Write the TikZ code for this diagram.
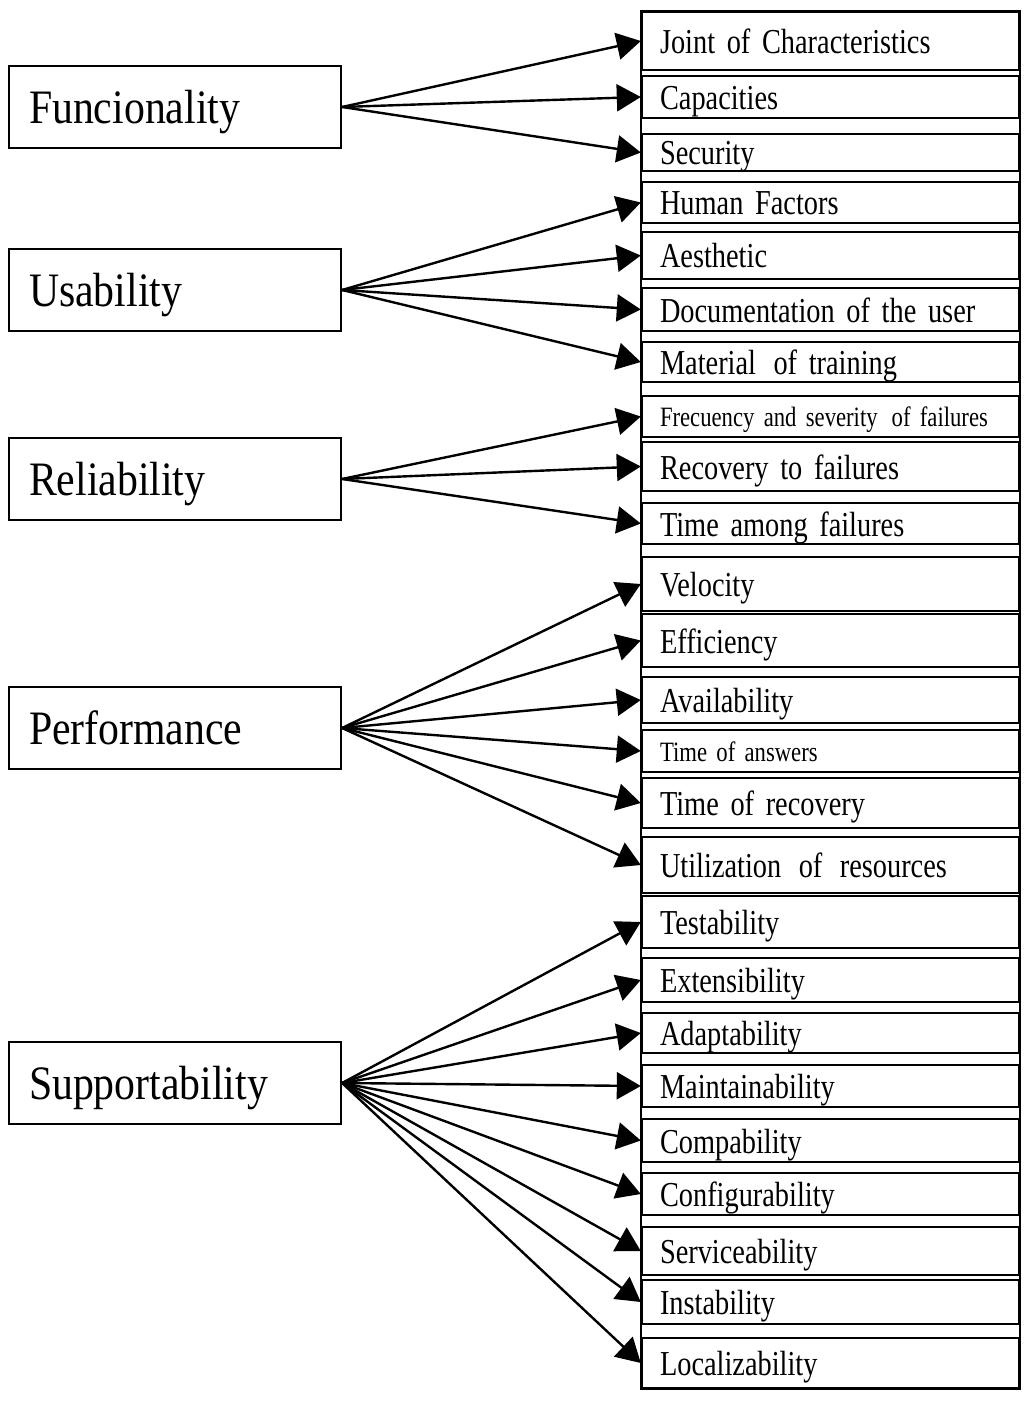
\documentclass[tikz,border=0pt]{standalone}
\usepackage{fontspec}
\setmainfont[FakeStretch=0.87]{Liberation Serif}
\newfontfamily\itmfont[FakeStretch=0.81]{Liberation Serif}
\usepackage{tikz}
\usetikzlibrary{arrows.meta,positioning}

\begin{document}
\begin{tikzpicture}[x=1pt,y=-1pt,
  every node/.style={font={\itmfont\fontsize{35}{40}\selectfont}},
  cat/.style={draw,line width=2.2pt,minimum width=332pt,minimum height=82pt,text width=292pt,align=left,inner sep=0pt,font={\rmfamily\fontsize{48}{54}\selectfont},text height=38pt,text depth=5pt},
  itm/.style={draw,line width=2.4pt,minimum width=377pt,text width=341pt,align=left,inner sep=0pt,text height=28pt,text depth=3pt},
  sml/.style={font={\itmfont\fontsize{28}{30}\selectfont},text height=22pt,text depth=2pt},
  arr/.style={line width=2.4pt,-{Triangle[length=24pt,width=27pt]}}]
 \useasboundingbox (0,0) rectangle (1032,1404);
 % left column
 \node[cat] (fun) at (175,107) {Funcionality};
 \node[cat] (usa) at (175,290) {Usability};
 \node[cat] (rel) at (175,479) {Reliability};
 \node[cat] (per) at (175,728) {Performance};
 \node[cat] (sup) at (175,1083) {Supportability};
 % right column
 \node[itm,minimum height=58pt] (jc) at (830.5,41) {Joint of Characteristics};
 \node[itm,minimum height=42pt] (cap) at (830.5,97) {Capacities};
 \node[itm,minimum height=37pt] (sec) at (830.5,152.5) {Security};
 \node[itm,minimum height=41pt] (hf) at (830.5,202.5) {Human Factors};
 \node[itm,minimum height=47pt] (aes) at (830.5,255.5) {Aesthetic};
 \node[itm,minimum height=43pt] (doc) at (830.5,309.5) {Documentation of the user};
 \node[itm,minimum height=40pt] (mat) at (830.5,362) {Material\, of training};
 \node[itm,sml,minimum height=41pt] (fr) at (830.5,416.5) {Frecuency and severity\, of failures};
 \node[itm,minimum height=49pt] (rec) at (830.5,466.5) {Recovery to failures};
 \node[itm,minimum height=41pt] (tam) at (830.5,523.5) {Time among failures};
 \node[itm,minimum height=54pt] (vel) at (830.5,584) {Velocity};
 \node[itm,minimum height=53pt] (eff) at (830.5,640.5) {Efficiency};
 \node[itm,minimum height=46pt] (ava) at (830.5,700) {Availability};
 \node[itm,sml,minimum height=42pt] (toa) at (830.5,751) {Time of answers};
 \node[itm,minimum height=50pt] (tor) at (830.5,803) {Time of recovery};
 \node[itm,minimum height=56pt] (uti) at (830.5,865) {Utilization\, of\, resources};
 \node[itm,minimum height=52pt] (tes) at (830.5,922) {Testability};
 \node[itm,minimum height=44pt] (ext) at (830.5,980) {Extensibility};
 \node[itm,minimum height=40pt] (ada) at (830.5,1033) {Adaptability};
 \node[itm,minimum height=42pt] (mai) at (830.5,1086) {Maintainability};
 \node[itm,minimum height=43pt] (com) at (830.5,1140.5) {Compability};
 \node[itm,minimum height=42pt] (cnf) at (830.5,1194) {Configurability};
 \node[itm,minimum height=48pt] (ser) at (830.5,1251) {Serviceability};
 \node[itm,minimum height=44pt] (ins) at (830.5,1302) {Instability};
 \node[itm,minimum height=50pt] (loc) at (830.5,1363) {Localizability};
 \draw[line width=2.4pt] (jc.north west) rectangle (loc.south east);
 % arrows
 \foreach \a/\b in {fun/jc,fun/cap,fun/sec,usa/hf,usa/aes,usa/doc,usa/mat,rel/fr,rel/rec,rel/tam,per/vel,per/eff,per/ava,per/toa,per/tor,per/uti,sup/tes,sup/ext,sup/ada,sup/mai,sup/com,sup/cnf,sup/ser,sup/ins,sup/loc}
   \draw[arr] (\a.east)--(\b.west);
\end{tikzpicture}
\end{document}
